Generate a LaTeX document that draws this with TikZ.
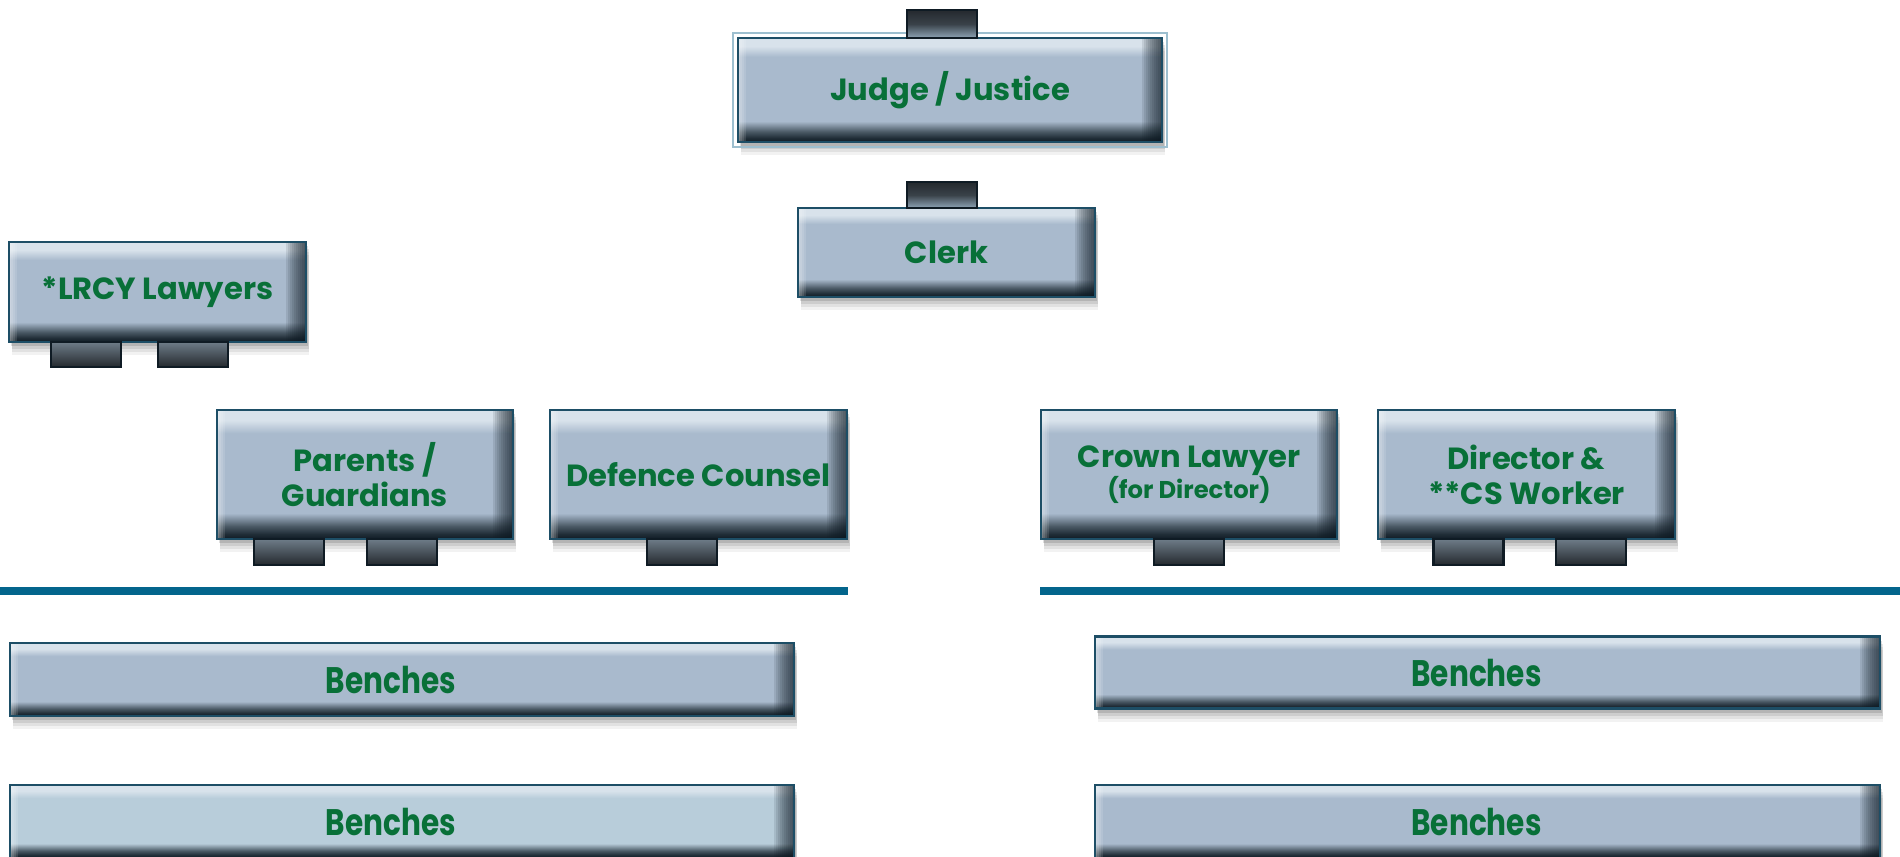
\documentclass[tikz,border=0pt]{standalone}
\usepackage{fontspec}
\setmainfont{Poppins}
\newfontfamily\benchfont[FakeStretch=0.8]{Poppins}
\usetikzlibrary{shadows,fit}

\definecolor{ink}{HTML}{087038}
\definecolor{rim}{HTML}{1D4E66}
\definecolor{framelite}{HTML}{9DBFCF}
\definecolor{rail}{HTML}{03658C}
\definecolor{bvbase}{HTML}{A9BACD}
\definecolor{bvpale}{HTML}{B8CDDA}
\definecolor{bvtop}{HTML}{D8E2EB}
\definecolor{bvmid}{HTML}{4A5965}
\definecolor{bvdark}{HTML}{0F1B24}
\definecolor{chairlt}{HTML}{6E7C88}
\definecolor{chairdk}{HTML}{24292E}
\definecolor{chairblue}{HTML}{8EA4B6}

% bevelled fill of the tables and benches
\pgfdeclareverticalshading{bevel}{100bp}{color(0bp)=(bvdark); color(25bp)=(bvdark);
  color(27bp)=(bvdark!70!bvmid); color(30bp)=(bvmid); color(35bp)=(bvbase); color(66bp)=(bvbase);
  color(71bp)=(bvtop); color(100bp)=(bvtop)}
\pgfdeclareverticalshading{bevelpale}{100bp}{color(0bp)=(bvdark); color(25bp)=(bvdark);
  color(27bp)=(bvdark!70!bvmid); color(30bp)=(bvmid); color(35bp)=(bvpale); color(66bp)=(bvpale);
  color(71bp)=(bvtop); color(100bp)=(bvtop)}

\begin{document}
\begin{tikzpicture}[x=0.01cm, y=-0.01cm,
    every node/.style={inner sep=0pt, align=center, text=ink},
    table/.style={shading=bevel, draw=rim, line width=0.6pt,
      font=\bfseries\fontsize{8.7}{10}\selectfont,
      drop shadow={shadow xshift=0.03cm, shadow yshift=-0.13cm, opacity=.05, fill=black},
      drop shadow={shadow xshift=0.03cm, shadow yshift=-0.10cm, opacity=.07, fill=black},
      drop shadow={shadow xshift=0.03cm, shadow yshift=-0.07cm, opacity=.09, fill=black},
      drop shadow={shadow xshift=0.02cm, shadow yshift=-0.04cm, opacity=.12, fill=black},
      path picture={
        \foreach \k in {1,...,10}
          \fill[bvdark, opacity=.1]
            ([xshift={-0.02cm*\k}]path picture bounding box.north east)
            rectangle (path picture bounding box.south east);
        \foreach \k in {1,...,4}
          \fill[white, opacity=.12]
            (path picture bounding box.north west)
            rectangle ([xshift={0.02cm*\k}]path picture bounding box.south west);
      }},
    bench/.style={table, minimum width=7.84cm, minimum height=0.73cm,
      font=\benchfont\bfseries\fontsize{10.5}{12}\selectfont,
      execute at end node={\hspace*{0.22cm}}},
    chair/.style={draw=bvdark, line width=0.6pt, minimum width=0.7cm,
      minimum height=0.26cm, top color=chairlt, bottom color=chairdk},
    backchair/.style={chair, top color=chairdk, bottom color=chairblue, middle color=chairdk!80!chairblue},
    frame/.style={draw=framelite, line width=0.6pt}]
  \useasboundingbox (0,0) rectangle (1900,856);
  \clip (0,0) rectangle (1900,856);

  % bench of the court
  \node[table, minimum width=4.24cm, minimum height=1.04cm] (judge) at (950,90) {Judge / Justice};
  \node[frame, fit=(judge), inner sep=0.035cm] (judgeframe) {};
  \node[table, minimum width=2.97cm, minimum height=0.89cm] (clerk) at (946.5,252.5) {Clerk};
  \node[table, minimum width=2.97cm, minimum height=1.00cm] (lrcy) at (157.5,292) {*LRCY Lawyers};

  % counsel tables
  \node[table, minimum width=2.96cm, minimum height=1.29cm] (parents) at (365,474.5) {Parents /\\Guardians};
  \node[table, minimum width=2.97cm, minimum height=1.29cm] (defence) at (698.5,474.5) {Defence Counsel};
  \node[table, minimum width=2.96cm, minimum height=1.29cm] (crown) at (1189,474.5)
    {Crown Lawyer\\[-1pt]{\fontsize{6.9}{9}\selectfont(for Director)}};
  \node[table, minimum width=2.97cm, minimum height=1.29cm] (director) at (1526.5,474.5) {Director \&\\**CS Worker};

  % chairs
  \node[backchair, minimum height=0.28cm] (judgechair) at (942,24) {};
  \node[backchair] (clerkchair) at (942,195) {};
  \node[chair, minimum height=0.25cm] (lrcychairA) at (86,354.5) {};
  \node[chair, minimum height=0.25cm] (lrcychairB) at (193,354.5) {};
  \node[chair] (parentschairA) at (289,552) {};
  \node[chair] (parentschairB) at (402,552) {};
  \node[chair] (defencechair) at (682,552) {};
  \node[chair] (crownchair) at (1189,552) {};
  \node[chair] (directorchairA) at (1468.5,552) {};
  \node[chair] (directorchairB) at (1591,552) {};

  % bar
  \coordinate (barLa) at (0,591);
  \coordinate (barLb) at (848,591);
  \coordinate (barRa) at (1040,591);
  \coordinate (barRb) at (1900,591);
  \draw[rail, line width=0.08cm] (barLa) -- (barLb);
  \draw[rail, line width=0.08cm] (barRa) -- (barRb);

  % gallery
  \node[bench] (benchLa) at (402,679.5) {Benches};
  \node[bench, shading=bevelpale] (benchLb) at (402,821.5) {Benches};
  \node[bench, minimum width=7.85cm, minimum height=0.72cm] (benchRa) at (1487.5,672.5) {Benches};
  \node[bench, minimum width=7.85cm] (benchRb) at (1487.5,821.5) {Benches};
\end{tikzpicture}
\end{document}
